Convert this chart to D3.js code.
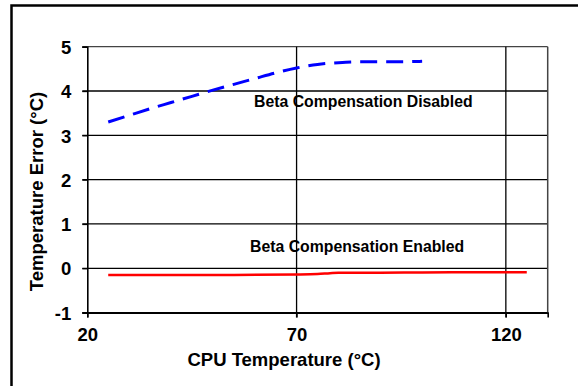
<!DOCTYPE html>
<html>
<head>
<meta charset="utf-8">
<script src="https://cdn.jsdelivr.net/npm/d3@7"></script>
<style>
  html, body { margin: 0; padding: 0; background: #fff; }
  svg { display: block; }
  text { font-family: "Liberation Sans", Arial, sans-serif; font-weight: bold; fill: #000; }
</style>
</head>
<body>
<script>
// CPU temperature (°C) sample points for each curve
const disabledTemps = [25, 30, 35, 40, 45, 50, 55, 60, 65, 70, 75, 80, 85, 90, 95, 100];
const disabledError = [3.30, 3.45, 3.60, 3.74, 3.88, 4.02, 4.15, 4.28, 4.41, 4.52, 4.60, 4.64, 4.66, 4.66, 4.66, 4.67];

const enabledTemps = [25, 40, 55, 70, 75, 78, 80, 90, 100, 110, 120, 125];
const enabledError = [-0.15, -0.15, -0.15, -0.14, -0.13, -0.11, -0.10, -0.10, -0.095, -0.09, -0.09, -0.09];

const xTicks = [20, 70, 120];
const yTicks = [-1, 0, 1, 2, 3, 4, 5];

const labelDisabled = "Beta Compensation Disabled";
const labelEnabled = "Beta Compensation Enabled";
const xTitle = "CPU Temperature (°C)";
const yTitle = "Temperature Error (°C)";

const W = 578, H = 386;
const svg = d3.select("body").append("svg").attr("width", W).attr("height", H);

// outer frame
svg.append("rect")
  .attr("x", 11.5).attr("y", 5.5)
  .attr("width", 640).attr("height", 420)
  .attr("fill", "none").attr("stroke", "#000").attr("stroke-width", 2.5);

const x = d3.scaleLinear().domain([20, 130]).range([87.3, 547.7]);
const y = d3.scaleLinear().domain([-1, 5]).range([312.6, 46.7]);

// horizontal grid
svg.append("g").selectAll("line").data(yTicks).join("line")
  .attr("x1", x(20) - 5).attr("x2", x(130))
  .attr("y1", d => y(d)).attr("y2", d => y(d))
  .attr("stroke", d => d === 5 ? "#444" : "#000").attr("stroke-width", 1.3);

// vertical grid
svg.append("g").selectAll("line").data(xTicks.slice(1)).join("line")
  .attr("x1", d => x(d)).attr("x2", d => x(d))
  .attr("y1", y(5)).attr("y2", y(-1) + 5)
  .attr("stroke", "#000").attr("stroke-width", 1.3);

// right border of the plot
svg.append("line")
  .attr("x1", x(130)).attr("x2", x(130)).attr("y1", y(5)).attr("y2", y(-1))
  .attr("stroke", "#444").attr("stroke-width", 1.5);

const tickFmt = d => String(d);

// axes
const yAxis = d3.axisLeft(y).tickValues(yTicks).tickSize(5).tickPadding(11).tickFormat(tickFmt);
const gy = svg.append("g").attr("transform", `translate(${x(20)},0)`).call(yAxis);
gy.select(".domain").attr("stroke", "#000").attr("stroke-width", 1.6);
gy.selectAll(".tick line").attr("stroke", "#000").attr("stroke-width", 1.3);
gy.selectAll(".tick text").style("font-size", "18.5px").style("font-family", "Liberation Sans, Arial, sans-serif")
  .style("font-weight", "bold").attr("fill", "#000").attr("dy", "0.36em");

const xAxis = d3.axisBottom(x).tickValues(xTicks).tickSize(5).tickPadding(10).tickFormat(tickFmt);
const gx = svg.append("g").attr("transform", `translate(0,${y(-1)})`).call(xAxis);
gx.select(".domain").attr("stroke", "#000").attr("stroke-width", 1.6);
gx.selectAll(".tick line").attr("stroke", "#000").attr("stroke-width", 1.3);
gx.selectAll(".tick text").style("font-size", "18.5px").style("font-family", "Liberation Sans, Arial, sans-serif")
  .style("font-weight", "bold").attr("fill", "#000");

// curves
const line = d3.line().x(d => x(d[0])).y(d => y(d[1])).curve(d3.curveMonotoneX);

svg.append("path")
  .datum(disabledTemps.map((t, i) => [t, disabledError[i]]))
  .attr("d", line).attr("fill", "none")
  .attr("stroke", "#0000ff").attr("stroke-width", 3)
  .attr("stroke-dasharray", "17,9");

svg.append("path")
  .datum(enabledTemps.map((t, i) => [t, enabledError[i]]))
  .attr("d", line).attr("fill", "none")
  .attr("stroke", "#ff0000").attr("stroke-width", 2.5);

// curve labels
svg.append("text").attr("x", 254).attr("y", 106.5).style("font-size", "15.8px").text(labelDisabled);
svg.append("text").attr("x", 250).attr("y", 251.5).style("font-size", "15.8px").text(labelEnabled);

// axis titles
svg.append("text").attr("x", 284).attr("y", 366).attr("text-anchor", "middle")
  .style("font-size", "18.5px").text(xTitle);
svg.append("text").attr("transform", "translate(43,191.5) rotate(-90)").attr("text-anchor", "middle")
  .style("font-size", "18.5px").text(yTitle);
</script>
</body>
</html>
